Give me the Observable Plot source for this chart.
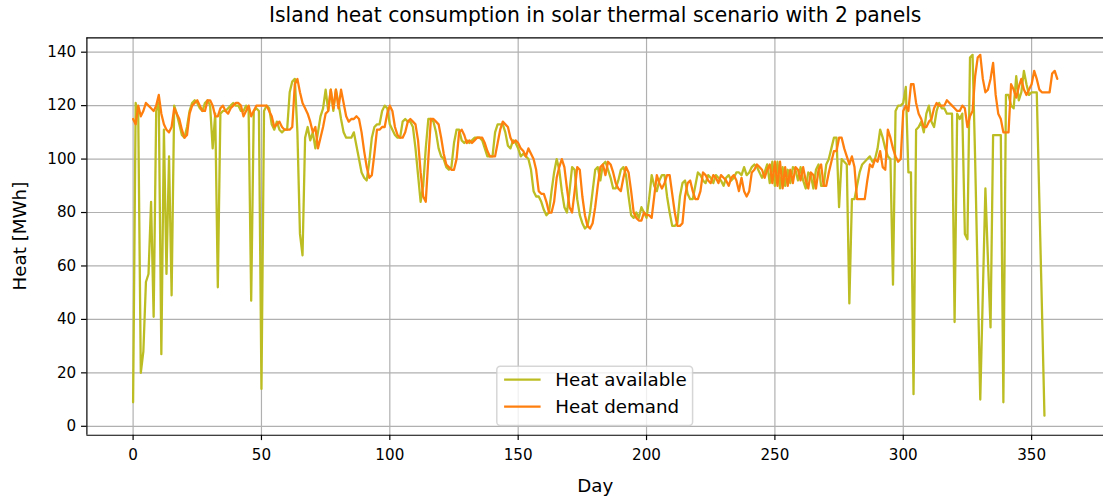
<!DOCTYPE html>
<html>
<head>
<meta charset="utf-8">
<script src="https://cdn.jsdelivr.net/npm/d3@7"></script>
<script src="https://cdn.jsdelivr.net/npm/@observablehq/plot@0.6"></script>
<style>
  html, body { margin: 0; padding: 0; background: #fff; }
  #chart { width: 1103px; height: 500px; overflow: hidden; }
</style>
</head>
<body>
<div id="chart"></div>
<script>
// Daily heat available on the island (MWh), day 0 .. 355
const heatAvailable = [
  9, 121, 117, 20, 28, 54, 57, 84, 41, 118,
  121, 27, 111, 57, 101, 49, 120, 117, 113, 109,
  108, 112, 118, 121, 122, 121, 119, 118, 121, 122,
  120, 104, 117, 52, 117, 118, 118, 119, 120, 121,
  120, 120, 118, 118, 120, 118, 47, 118, 119, 118,
  14, 118, 120, 119, 113, 111, 114, 111, 110, 111,
  111, 125, 129, 130, 110, 72, 64, 108, 112, 107,
  110, 104, 110, 116, 119, 126, 118, 126, 118, 126,
  121, 115, 110, 108, 108, 108, 110, 105, 100, 95,
  93, 92, 99, 108, 112, 113, 113, 118, 120, 119,
  113, 111, 109, 108, 108, 114, 115, 114, 114, 112,
  104, 94, 84, 90, 104, 115, 115, 114, 110, 104,
  101, 100, 97, 96, 97, 106, 111, 111, 107, 106,
  107, 106, 107, 108, 108, 108, 107, 104, 101, 101,
  101, 110, 113, 113, 113, 110, 105, 104, 107, 106,
  104, 101, 102, 101, 100, 96, 88, 86, 86, 84,
  81, 79, 80, 88, 95, 100, 96, 88, 82, 80,
  88, 97, 96, 85, 79, 76, 74, 75, 80, 88,
  96, 97, 92, 98, 99, 96, 93, 89, 89, 92,
  96, 97, 94, 86, 79, 78, 80, 78, 82, 80,
  78, 85, 94, 90, 88, 92, 94, 94, 86, 80,
  75, 75, 76, 86, 91, 92, 87, 85, 85, 90,
  95, 94, 92, 91, 94, 93, 91, 94, 93, 92,
  90, 93, 94, 92, 93, 95, 95, 94, 97, 94,
  95, 97, 98, 97, 95, 93, 95, 98, 91, 99,
  90, 99, 89, 97, 90, 96, 91, 97, 96, 92,
  97, 92, 89, 95, 94, 89, 96, 98, 90, 90,
  98, 100, 104, 108, 108, 82, 100, 99, 98, 46,
  85, 85, 90, 95, 98, 99, 100, 101, 99, 100,
  104, 111, 108, 104, 101, 100, 53, 118, 120, 120,
  121, 127, 95, 95, 12, 111, 112, 114, 110, 117,
  120, 114, 112, 118, 121, 119, 119, 117, 117, 117,
  39, 117, 115, 117, 72, 70, 138, 139, 100, 55,
  10, 50, 89, 62, 37, 109, 109, 109, 109, 9,
  124, 124, 120, 119, 131, 122, 125, 133, 128, 124,
  125, 125, 125, 85, 45, 4
];

// Daily heat demand on the island (MWh), day 0 .. 360
const heatDemand = [
  115, 113, 120, 116, 118, 121, 120, 119, 118, 120,
  124, 117, 113, 111, 110, 112, 119, 117, 115, 111,
  108, 109, 117, 120, 121, 122, 120, 118, 118, 122,
  122, 120, 116, 116, 119, 120, 118, 117, 119, 120,
  121, 121, 120, 116, 118, 120, 116, 118, 120, 120,
  120, 120, 120, 118, 116, 112, 113, 114, 112, 111,
  111, 111, 112, 128, 130, 125, 121, 119, 117, 114,
  110, 112, 104, 108, 112, 117, 118, 126, 119, 126,
  119, 126, 121, 116, 114, 115, 115, 116, 115, 110,
  103, 97, 93, 94, 102, 111, 111, 112, 112, 117,
  120, 118, 112, 109, 108, 108, 110, 114, 115, 114,
  113, 107, 95, 86, 84, 100, 115, 115, 114, 113,
  108, 102, 98, 97, 96, 96, 100, 110, 111, 109,
  106, 107, 106, 107, 108, 108, 108, 106, 103, 101,
  101, 101, 106, 111, 114, 113, 112, 108, 106, 107,
  106, 104, 103, 101, 104, 102, 100, 96, 88, 87,
  87, 84, 80, 80, 84, 93, 97, 100, 97, 89,
  82, 80, 88, 97, 96, 86, 79, 75, 74, 76,
  82, 90, 97, 98, 94, 99, 98, 95, 91, 89,
  88, 93, 97, 95, 88, 80, 78, 77, 77, 80,
  79, 79, 78, 86, 94, 91, 89, 91, 94, 94,
  87, 80, 75, 75, 76, 86, 91, 92, 88, 85,
  85, 88, 95, 94, 92, 91, 94, 93, 91, 94,
  93, 92, 90, 93, 94, 92, 88, 93, 88, 86,
  88, 95, 96, 98, 97, 96, 93, 96, 98, 91,
  99, 90, 99, 89, 97, 90, 96, 91, 97, 96,
  92, 97, 92, 89, 95, 94, 89, 96, 98, 90,
  90, 95, 99, 103, 103, 108, 108, 104, 101, 98,
  101, 97, 85, 85, 85, 85, 92, 98, 97, 100,
  99, 103, 97, 96, 111, 108, 104, 101, 99, 100,
  118, 120, 118, 128, 128, 121, 117, 115, 112, 112,
  114, 115, 119, 121, 120, 120, 120, 122, 121, 120,
  119, 118, 118, 120, 119, 112, 116, 118, 131, 138,
  139, 130, 125, 126, 130, 136, 124, 117, 115, 110,
  110, 110, 128, 126, 123, 127, 130, 126, 124, 126,
  128, 133, 130, 126, 125, 125, 125, 125, 132, 133, 130
];

const seriesNames = ["Heat available", "Heat demand"];
const seriesColors = ["#bcbd22", "#ff7f0e"];
const dayTicks = [0, 50, 100, 150, 200, 250, 300, 350];
const heatTicks = [0, 20, 40, 60, 80, 100, 120, 140];
const titleText = "Island heat consumption in solar thermal scenario with 2 panels";
const xLabel = "Day";
const yLabel = "Heat [MWh]";

const available = heatAvailable.map((heat, day) => ({day, heat}));
const demand = heatDemand.map((heat, day) => ({day, heat}));

const FONT = "DejaVu Sans, sans-serif";
const xDomain = [-18, 378];
const yDomain = [-3.35, 145.35];

const chart = Plot.plot({
  width: 1112,
  height: 500,
  marginLeft: 87.1,
  marginRight: 0,
  marginTop: 37.7,
  marginBottom: 61.7,
  style: {fontFamily: FONT, fontSize: "15.3px", color: "#000", background: "#fff"},
  x: {domain: xDomain},
  y: {domain: yDomain},
  marks: [
    Plot.gridX(dayTicks, {stroke: "#b0b0b0", strokeOpacity: 1, strokeWidth: 1.2}),
    Plot.gridY(heatTicks, {stroke: "#b0b0b0", strokeOpacity: 1, strokeWidth: 1.2}),
    Plot.line(available, {x: "day", y: "heat", stroke: seriesColors[0], strokeWidth: 2.3}),
    Plot.line(demand, {x: "day", y: "heat", stroke: seriesColors[1], strokeWidth: 2.3}),
    // axes spines: left, bottom, top
    Plot.ruleX([xDomain[0]], {stroke: "#000", strokeWidth: 1.2}),
    Plot.ruleY([yDomain[0]], {stroke: "#000", strokeWidth: 1.2}),
    Plot.ruleY([yDomain[1]], {stroke: "#000", strokeWidth: 1.2}),
    Plot.axisX(dayTicks, {tickSize: 5.4, tickPadding: 9, stroke: "#000", strokeWidth: 1.2,
      label: null, fontSize: 15.3, fill: "#000"}),
    Plot.axisY(heatTicks, {tickSize: 5.4, tickPadding: 5.4, stroke: "#000", strokeWidth: 1.2,
      label: null, fontSize: 15.3, fill: "#000"}),
    Plot.text([titleText], {frameAnchor: "top", dy: -16, lineAnchor: "bottom",
      fontSize: 20.5, fill: "#000"}),
    Plot.text([xLabel], {frameAnchor: "bottom", dy: 57.5, lineAnchor: "bottom",
      fontSize: 18.4, fill: "#000"})
  ]
});

document.getElementById("chart").appendChild(chart);

const svg = d3.select(chart);
const sx = chart.scale("x"), sy = chart.scale("y");
const frameLeft = sx.apply(xDomain[0]), frameRight = sx.apply(xDomain[1]);
const frameTop = sy.apply(yDomain[1]), frameBottom = sy.apply(yDomain[0]);

// Vertical axis title, centred on the frame
svg.append("text")
  .attr("transform", `translate(${frameLeft - 61},${(frameTop + frameBottom) / 2}) rotate(-90)`)
  .attr("text-anchor", "middle")
  .attr("font-family", FONT)
  .attr("font-size", 18.4)
  .attr("fill", "#000")
  .text(yLabel);

// Legend box, anchored to the lower centre of the axes frame
(function drawLegend() {
  const fs = 18.4;
  const boxW = 197.4, boxH = 59.7;
  const boxX = (frameLeft + frameRight) / 2 - boxW / 2;
  const boxY = frameBottom - 9.3 - boxH;
  const g = svg.append("g").attr("font-family", FONT).attr("font-size", fs);
  g.append("rect")
    .attr("x", boxX).attr("y", boxY).attr("width", boxW).attr("height", boxH)
    .attr("rx", 3.5).attr("ry", 3.5)
    .attr("fill", "#fff").attr("fill-opacity", 0.8)
    .attr("stroke", "#cccccc").attr("stroke-opacity", 0.8).attr("stroke-width", 1.5);
  seriesNames.forEach((name, i) => {
    const cy = boxY + 13.4 + i * 27.3;
    const hx = boxX + 0.4 * fs;
    g.append("line")
      .attr("x1", hx).attr("x2", hx + 2 * fs)
      .attr("y1", cy).attr("y2", cy)
      .attr("stroke", seriesColors[i]).attr("stroke-width", 2.3);
    g.append("text")
      .attr("x", hx + 2.8 * fs).attr("y", cy).attr("dy", "0.35em")
      .attr("text-anchor", "start")
      .attr("fill", "#000").text(name);
  });
})();
</script>
</body>
</html>
